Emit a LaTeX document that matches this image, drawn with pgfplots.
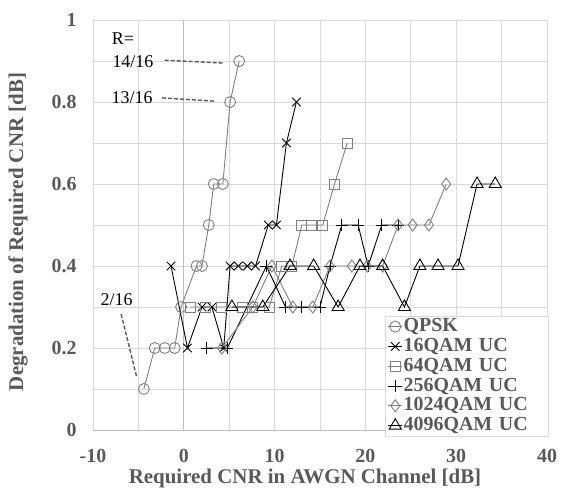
\documentclass[border=0pt]{standalone}
\usepackage{fontspec}
\setmainfont{Liberation Serif}
\usepackage{pgfplots}
\pgfplotsset{compat=1.18}
\definecolor{txtgray}{HTML}{595959}
\definecolor{gridgray}{HTML}{D9D9D9}
\definecolor{axgray}{HTML}{BFBFBF}
\definecolor{sergray}{HTML}{808080}

\begin{document}
\begin{tikzpicture}
\begin{axis}[
  scale only axis, width=454bp, height=410bp,
  xmin=-10, xmax=40, ymin=0, ymax=1,
  xtick={-10,0,10,20,30,40}, ytick={0,0.2,0.4,0.6,0.8,1},
  minor x tick num=1, minor y tick num=1,
  grid=both,
  major grid style={gridgray, line width=0.8bp},
  minor grid style={gridgray, line width=0.8bp},
  axis line style={gridgray, line width=0.8bp},
  major tick length=0pt, minor tick length=0pt,
  /pgf/number format/assume math mode=true,
  xticklabel={\pgfmathprintnumber{\tick}},
  yticklabel={\pgfmathprintnumber{\tick}},
  ticklabel style={font=\bfseries\fontsize{20}{24}\selectfont, text=txtgray},
  xticklabel style={anchor=center}, xticklabel shift=26bp,
  yticklabel shift=13bp,
  xlabel={Required CNR in AWGN Channel [dB]},
  ylabel={Degradation of Required CNR [dB]},
  label style={font=\bfseries\fontsize{21}{24}\selectfont, text=txtgray},
  xlabel style={at={(axis description cs:0.467,-0.118)}, anchor=center},
  ylabel style={at={(axis description cs:-0.165,0.483)}, anchor=center, rotate=0},
  legend cell align=left,
  legend style={at={(axis description cs:1.002,0.278)}, anchor=north east,
    draw=gridgray, fill=white, text=txtgray,
    font=\bfseries\fontsize{20}{20}\selectfont,
    nodes={inner sep=1bp, text height=14bp, text depth=3.8bp},
    row sep=0pt, inner xsep=3bp, inner ysep=0.5bp,
    /tikz/every even column/.append style={text width=140bp}},
  legend image code/.code={\draw[mark repeat=2,mark phase=2]
    plot coordinates {(0bp,0bp) (7bp,0bp) (14bp,0bp)};},
  every axis plot/.append style={line width=0.9bp},
]
% axis lines through the origin
\draw[axgray, line width=0.9bp] (axis cs:0,0) -- (axis cs:0,1);
\draw[axgray, line width=0.9bp] (axis cs:-10,0) -- (axis cs:40,0);

\addplot[sergray, mark=o, mark size=5.5bp] coordinates {
  (-4.4,0.1) (-3.2,0.2) (-2.1,0.2) (-1.0,0.2) (-0.3,0.3) (1.4,0.4)
  (2.0,0.4) (2.75,0.5) (3.3,0.6) (4.3,0.6) (5.1,0.8) (6.1,0.9)};
\addlegendentry{QPSK}

\addplot[black, mark=x, mark size=6bp] coordinates {
  (-1.4,0.4) (0.4,0.2) (2.0,0.3) (3.1,0.3) (4.4,0.2) (5.1,0.4) (6.0,0.4)
  (7.0,0.4) (7.9,0.4) (9.3,0.5) (10.2,0.5) (11.3,0.7) (12.4,0.8)};
\addlegendentry{16QAM UC}

\addplot[sergray, mark=square, mark size=5bp] coordinates {
  (0.7,0.3) (2.4,0.3) (4.2,0.3) (6.5,0.3) (7.6,0.3) (9.4,0.3) (10.8,0.4)
  (11.9,0.4) (13.0,0.5) (14.1,0.5) (15.3,0.5) (16.6,0.6) (18.0,0.7)};
\addlegendentry{64QAM UC}

\addplot[black, mark=+, mark size=6bp] coordinates {
  (2.5,0.2) (4.8,0.2) (9.1,0.4) (11.2,0.3) (13.0,0.3) (15.0,0.3) (16.1,0.4)
  (17.4,0.5) (19.2,0.5) (20.3,0.4) (21.8,0.5) (23.6,0.5)};
\addlegendentry{256QAM UC}

\addplot[sergray, mark=diamond, mark size=6bp] coordinates {
  (4.2,0.2) (7.6,0.3) (9.7,0.4) (12.0,0.3) (14.2,0.3) (16.1,0.4) (18.5,0.4)
  (20.2,0.4) (21.9,0.4) (23.6,0.5) (25.2,0.5) (27.0,0.5) (28.9,0.6)};
\addlegendentry{1024QAM UC}

\addplot[black, mark=triangle, mark size=7bp] coordinates {
  (5.3,0.3) (8.7,0.3) (11.7,0.4) (14.3,0.4) (17.0,0.3) (19.4,0.4) (21.9,0.4)
  (24.3,0.3) (26.0,0.4) (28.0,0.4) (30.2,0.4) (32.3,0.6) (34.3,0.6)};
\addlegendentry{4096QAM UC}

% code-rate annotations
\node[font=\fontsize{18}{20}\selectfont] at (axis cs:-6.7,0.955) {R=};
\node[font=\fontsize{18}{20}\selectfont] at (axis cs:-5.6,0.898) {14/16};
\node[font=\fontsize{18}{20}\selectfont] at (axis cs:-5.7,0.81) {13/16};
\node[font=\fontsize{18}{20}\selectfont] at (axis cs:-7.4,0.317) {2/16};
\draw[txtgray, line width=1.4bp, dash pattern=on 4bp off 2bp]
  (axis cs:-2.1,0.902) -- (axis cs:4.3,0.895);
\draw[txtgray, line width=1.4bp, dash pattern=on 4bp off 2bp]
  (axis cs:-2.4,0.81) -- (axis cs:3.4,0.802);
\draw[txtgray, line width=1.4bp, dash pattern=on 4bp off 2bp]
  (axis cs:-6.9,0.283) -- (axis cs:-5.2,0.13);
\end{axis}
\pgfresetboundingbox
\path[use as bounding box] ([xshift=-93bp,yshift=-65bp]current axis.south west)
  rectangle ([xshift=18bp,yshift=20bp]current axis.north east);
\end{tikzpicture}
\end{document}
